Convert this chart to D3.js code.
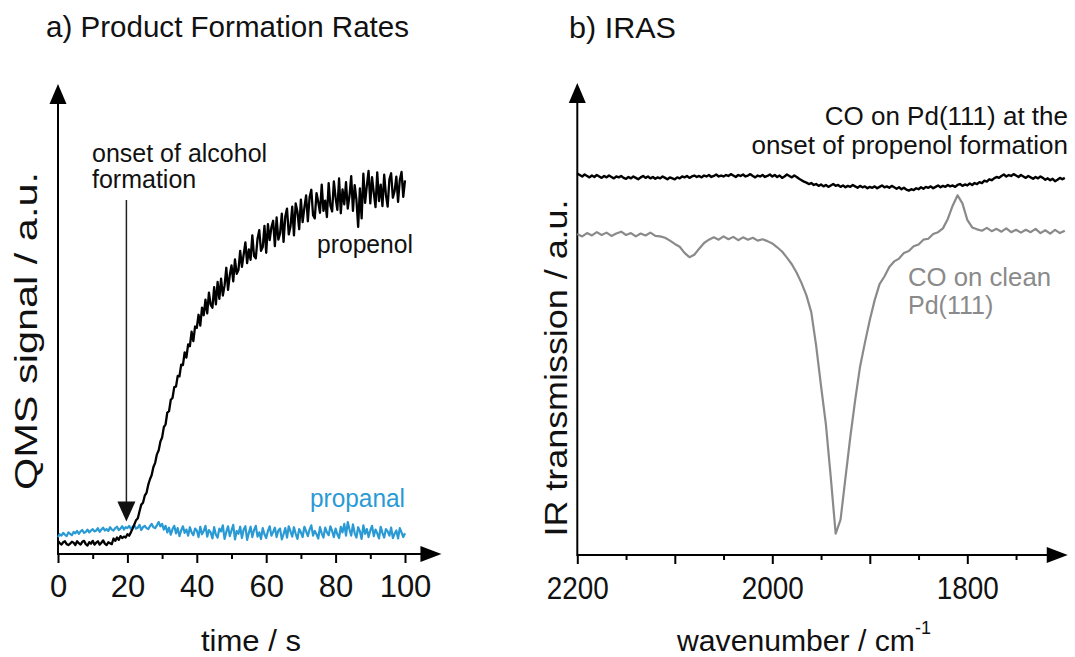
<!DOCTYPE html>
<html><head><meta charset="utf-8">
<script src="https://cdn.jsdelivr.net/npm/d3@7"></script>
<style>
body{margin:0;background:#fff}
svg{display:block}
text{font-family:"Liberation Sans",Arial,Helvetica,sans-serif}
</style>
</head><body>
<svg id="c" width="1075" height="657"></svg>
<script>
// ---------- DATA ----------
// panel a: sample times (s), 0.5 s sampling
const times = d3.range(0, 100.01, 0.5);
const propenol = [2.8,2.3, 2.0,2.5, 2.7,2.1, 1.9,2.2, 2.6,2.4, 1.9,2.7, 2.3,2.0, 2.6,2.8, 2.1,1.8, 2.5,2.2,
  2.8,2.0, 2.4,2.7, 2.0,2.4, 2.9,2.2, 1.9,2.5, 2.3,2.1, 3.3,2.8, 3.5,3.0, 3.8,3.4, 3.7,3.5,
  4.2,3.9, 4.6,5.4, 6.3,7.2, 7.6,9.1, 10.5,10.9, 12.4,13.0, 14.7,15.9, 16.8,18.5, 19.4,21.2, 22.0,23.9,
  24.8,27.0, 27.6,30.1, 30.4,32.8, 33.2,35.5, 35.6,37.9, 37.8,40.3, 40.2,42.9, 41.8,44.6, 44.2,47.3, 45.3,48.4,
  48.1,50.9, 48.6,52.4, 50.8,54.1, 51.2,55.6, 53.0,52.4, 56.8,53.1, 57.9,54.3, 58.6,55.0, 57.1,60.9, 56.2,59.3,
  61.4,58.0, 62.7,59.6, 60.4,64.5, 61.1,63.7, 66.3,61.9, 64.8,62.6, 67.8,63.4, 62.9,67.1, 68.9,64.5, 65.3,69.8,
  64.1,70.2, 66.8,69.5, 70.9,65.5, 71.6,66.9, 68.2,72.4, 66.4,71.8, 73.5,68.0, 69.7,73.9, 67.8,74.6, 72.8,69.1,
  75.4,70.6, 73.7,76.3, 70.8,75.9, 77.5,72.1, 71.4,76.8, 74.9,72.6, 78.6,73.0, 75.2,71.7, 78.9,74.1, 72.9,79.3,
  75.8,73.2, 79.9,72.5, 77.6,74.4, 79.1,73.5, 76.2,80.4, 73.0,78.5, 75.4,69.6, 77.8,71.4, 80.9,74.7, 78.3,81.5,
  74.6,80.2, 76.9,73.8, 81.2,75.1, 78.6,74.0, 80.7,76.4, 73.9,79.7, 81.0,75.8, 77.2,80.3, 74.9,79.6, 81.3,76.0,
  79.5];
const propanal = [3.6,4.2, 3.9,4.5, 4.1,3.8, 4.6,4.3, 4.0,4.7, 4.4,4.9, 4.3,4.8, 5.1,4.5, 4.7,5.2, 4.6,5.0,
  5.3,4.8, 5.0,5.5, 4.7,5.2, 5.6,5.0, 5.3,4.9, 5.7,5.2, 5.0,5.5, 5.8,5.1, 5.4,5.9, 5.2,5.7,
  5.5,6.0, 5.3,5.8, 6.1,5.4, 5.6,6.2, 5.1,5.7, 6.0,5.5, 5.3,5.9, 6.4,5.7, 5.5,6.1, 6.8,5.9,
  6.4,5.2, 6.0,4.6, 5.6,4.1, 5.3,6.0, 4.4,5.5, 3.8,5.0, 5.9,4.5, 5.2,3.9, 5.7,4.6, 4.0,5.4,
  5.0,3.6, 5.8,4.2, 4.9,6.0, 3.7,5.1, 4.6,3.3, 5.7,4.1, 3.5,5.4, 4.8,6.1, 3.2,4.7, 5.9,3.8,
  5.0,6.2, 3.1,4.9, 4.3,5.8, 3.4,5.2, 5.9,3.0, 4.5,5.8, 3.6,5.1, 6.0,3.7, 4.6,3.2, 5.5,4.2,
  3.4,4.9, 5.9,3.9, 4.7,5.6, 3.6,5.0, 5.4,3.1, 4.2,5.5, 3.5,5.9, 4.8,3.7, 5.7,4.3, 3.2,5.3,
  4.6,3.6, 5.8,4.8, 3.8,5.2, 6.1,3.9, 4.9,4.2, 3.3,5.7, 4.4,3.5, 5.6,4.6, 4.0,5.9, 4.9,3.6,
  5.4,4.2, 3.4,5.8, 4.6,6.4, 3.9,6.8, 5.2,3.9, 6.3,4.4, 3.5,5.7, 4.8,3.2, 6.1,4.3, 5.3,3.6,
  5.0,6.0, 3.8,5.2, 4.4,3.3, 5.8,4.5, 3.5,5.3, 4.8,3.9, 5.6,3.4, 4.3,5.0, 3.3,5.5, 4.6,3.6,
  4.4];

// panel b: wavenumbers (cm-1)
const wnFine = d3.range(2200, 1699.9, -2.5);   // black spectrum sampling
const wnCoarse = d3.range(2200, 1699.9, -5);   // grey spectrum sampling
const coOnset = [80.8,80.5,80.2,80.6,80.3,80.0,80.4,80.1,80.5,80.2,79.9,80.3,80.0,80.4,80.1,79.8,80.2,80.0,80.3,79.9,
  79.7,80.1,79.8,80.2,79.9,79.6,80.0,80.3,79.9,80.2,79.8,80.1,79.7,80.0,79.8,80.2,79.9,79.6,80.0,79.8,
  79.6,80.0,79.8,80.2,80.0,80.3,79.9,80.2,80.4,80.1,80.3,80.0,80.4,80.2,80.5,80.1,80.3,80.6,80.2,80.4,
  80.2,80.5,80.3,80.7,80.4,80.1,80.5,80.3,80.6,80.2,80.4,80.7,80.3,80.0,80.4,80.2,80.5,80.1,80.3,80.6,
  80.2,80.5,80.1,80.4,79.9,80.2,80.6,80.3,80.0,80.4,80.1,79.7,79.4,79.1,78.9,78.6,78.8,78.4,78.6,78.2,
  78.5,78.1,78.4,78.0,78.3,78.6,78.2,78.4,78.0,78.3,77.9,78.2,78.0,78.4,78.1,77.8,78.2,77.9,78.1,77.7,
  78.0,77.8,78.1,77.7,78.0,78.3,77.9,78.1,77.8,78.2,77.9,77.6,77.9,77.5,77.8,77.4,77.2,77.5,77.3,77.7,
  77.5,77.9,77.6,78.0,77.8,78.1,77.7,78.0,78.3,77.9,78.2,78.0,78.4,78.1,78.3,78.0,78.4,78.6,78.2,78.5,
  78.3,78.7,78.4,78.8,78.6,79.0,78.8,79.3,79.1,79.6,79.4,79.8,80.1,79.9,80.3,80.6,80.2,80.5,80.3,80.7,
  80.4,80.1,80.5,80.2,79.9,80.3,80.0,79.7,80.1,79.8,80.2,79.9,79.5,79.8,79.4,79.7,79.2,79.5,79.9,79.6,
  79.9];
const coClean = [68.0,67.5,68.2,67.7,68.4,67.8,68.3,67.6,68.1,68.5,67.8,68.2,67.5,68.1,67.7,68.3,67.6,67.5,
  67.2,66.6,65.9,65.3,64.0,63.1,63.6,64.9,66.1,66.8,
  67.3,66.8,67.5,66.9,67.4,66.7,67.3,66.8,67.2,66.6,66.9,
  66.5,66.0,65.2,64.3,63.0,61.6,59.8,57.6,55.0,51.4,
  44.3,35.8,27.6,16.4,4.5,7.5,16.3,25.0,32.8,39.9,
  45.0,49.8,54.0,57.4,59.0,61.0,62.2,62.8,64.0,64.4,
  65.4,65.8,66.8,67.0,68.0,68.4,69.2,71.2,74.0,76.2,
  74.5,71.0,69.4,69.0,
  68.7,69.3,68.6,69.1,68.5,69.2,68.4,68.9,68.3,68.9,68.4,69.1,68.2,68.8,68.1,68.9,68.2,68.7];

const timeTicksMajor = [0,20,40,60,80,100];
const timeTicksMinor = [10,30,50,70,90];
const wnTicksMajor = [2200,2100,2000,1900,1800];
const wnTicksMinor = [2150,2050,1950,1850,1750];
const wnTicksLabeled = [2200,2000,1800];
const onsetTime = 20;

// ---------- LAYOUT ----------
const svg = d3.select('#c');
const FONT = '"Liberation Sans",Arial,Helvetica,sans-serif';
const BLUE = '#2a9ad4', GREY = '#8a8a8a';

const xA = d3.scaleLinear().domain([0,100]).range([58,405]);
const yA = d3.scaleLinear().domain([0,100]).range([554,84]);
const xB = d3.scaleLinear().domain([2200,1800]).range([577.3,967.3]);
const yB = d3.scaleLinear().domain([0,100]).range([555,83]);

function arrowUp(x, yTip, hw, h){ return `M${x},${yTip}L${x-hw},${yTip+h}L${x+hw},${yTip+h}Z`; }
function arrowRight(xTip, y, hw, h){ return `M${xTip},${y}L${xTip-h},${y-hw}L${xTip-h},${y+hw}Z`; }

function drawAxes(x, y, xStart, xEnd, majors, minors, labelFmt, fs, labelLen){
  const y0 = y(0);
  const g = svg.append('g').attr('transform', `translate(0,${y0})`);
  g.call(d3.axisBottom(x).tickValues(majors).tickSize(9).tickPadding(12).tickSizeOuter(0).tickFormat(labelFmt));
  g.select('.domain').remove();
  g.selectAll('.tick line').attr('stroke','#000').attr('stroke-width',2);
  const t = g.selectAll('.tick text').attr('font-size',fs).attr('font-family',FONT).attr('fill','#111');
  if (labelLen) t.filter(function(){return this.textContent.length>0;}).attr('textLength',labelLen).attr('lengthAdjust','spacingAndGlyphs');
  const gm = svg.append('g').attr('transform', `translate(0,${y0})`);
  gm.call(d3.axisBottom(x).tickValues(minors).tickSize(5).tickFormat(''));
  gm.select('.domain').remove();
  gm.selectAll('.tick line').attr('stroke','#000').attr('stroke-width',2);
  const xl = x(xStart), xr = x(xEnd), yt = y(100);
  svg.append('line').attr('x1',xl).attr('x2',xr-14).attr('y1',y0).attr('y2',y0).attr('stroke','#000').attr('stroke-width',2);
  svg.append('line').attr('x1',xl).attr('x2',xl).attr('y1',y0+1).attr('y2',yt+14).attr('stroke','#000').attr('stroke-width',2);
  svg.append('path').attr('d',arrowRight(xr,y0,8,21)).attr('fill','#000');
  svg.append('path').attr('d',arrowUp(xl,yt,8.5,20)).attr('fill','#000');
}

function txt(x,y,s,opts){
  const t = svg.append('text').attr('x',x).attr('y',y).text(s)
    .attr('font-size',opts.fs).attr('fill',opts.fill||'#111').attr('font-family',FONT)
    .attr('text-anchor',opts.anchor||'start');
  if (opts.len) t.attr('textLength',opts.len).attr('lengthAdjust','spacingAndGlyphs');
  if (opts.rot) t.attr('transform',`rotate(-90,${x},${y})`);
  return t;
}

// ---------- PANEL A ----------
drawAxes(xA, yA, 0, 110.5, timeTicksMajor, timeTicksMinor, d3.format('d'), 31, null);

const lineA = d3.line().x((d,i)=>xA(times[i])).y(d=>yA(d));
svg.append('path').datum(propanal).attr('d',lineA).attr('fill','none').attr('stroke',BLUE).attr('stroke-width',2.2).attr('stroke-linejoin','round');
svg.append('path').datum(propenol).attr('d',lineA).attr('fill','none').attr('stroke','#000').attr('stroke-width',2.3).attr('stroke-linejoin','round');

const ax = xA(onsetTime) - 1;
svg.append('line').attr('x1',ax).attr('x2',ax).attr('y1',200).attr('y2',505).attr('stroke','#222').attr('stroke-width',1.5);
svg.append('path').attr('d',`M${ax},${yA(6.9)}L${ax-9},${yA(6.9)-20}L${ax+9},${yA(6.9)-20}Z`).attr('fill','#111');

txt(46,37,'a) Product Formation Rates',{fs:30,len:363});
txt(92,162,'onset of alcohol',{fs:25});
txt(92,188,'formation',{fs:25});
txt(413,253,'propenol',{fs:25,anchor:'end',len:96});
txt(405,507,'propanal',{fs:25,anchor:'end',len:95,fill:BLUE});
txt(251,651,'time / s',{fs:29,anchor:'middle',len:100});
txt(37,331,'QMS signal / a.u.',{fs:31,anchor:'middle',len:318,rot:true});

// ---------- PANEL B ----------
drawAxes(xB, yB, 2200, 1697, wnTicksMajor, wnTicksMinor, d=>wnTicksLabeled.includes(d)?String(d):'', 32, 62);

svg.append('path').datum(coClean).attr('d',d3.line().x((d,i)=>xB(wnCoarse[i])).y(d=>yB(d)))
  .attr('fill','none').attr('stroke',GREY).attr('stroke-width',2.2).attr('stroke-linejoin','round');
svg.append('path').datum(coOnset).attr('d',d3.line().x((d,i)=>xB(wnFine[i])).y(d=>yB(d)))
  .attr('fill','none').attr('stroke','#000').attr('stroke-width',2.4).attr('stroke-linejoin','round');

txt(569,38,'b) IRAS',{fs:30,len:107});
txt(1068,125,'CO on Pd(111) at the',{fs:26,anchor:'end'});
txt(1068,154,'onset of propenol formation',{fs:26,anchor:'end'});
txt(908,286,'CO on clean',{fs:25,fill:GREY,len:143});
txt(908,314,'Pd(111)',{fs:25,fill:GREY});
txt(677,651,'wavenumber / cm',{fs:29,len:238});
txt(915,634,'-1',{fs:18});
txt(567,368,'IR transmission / a.u.',{fs:31,anchor:'middle',len:337,rot:true});
</script>
</body></html>
